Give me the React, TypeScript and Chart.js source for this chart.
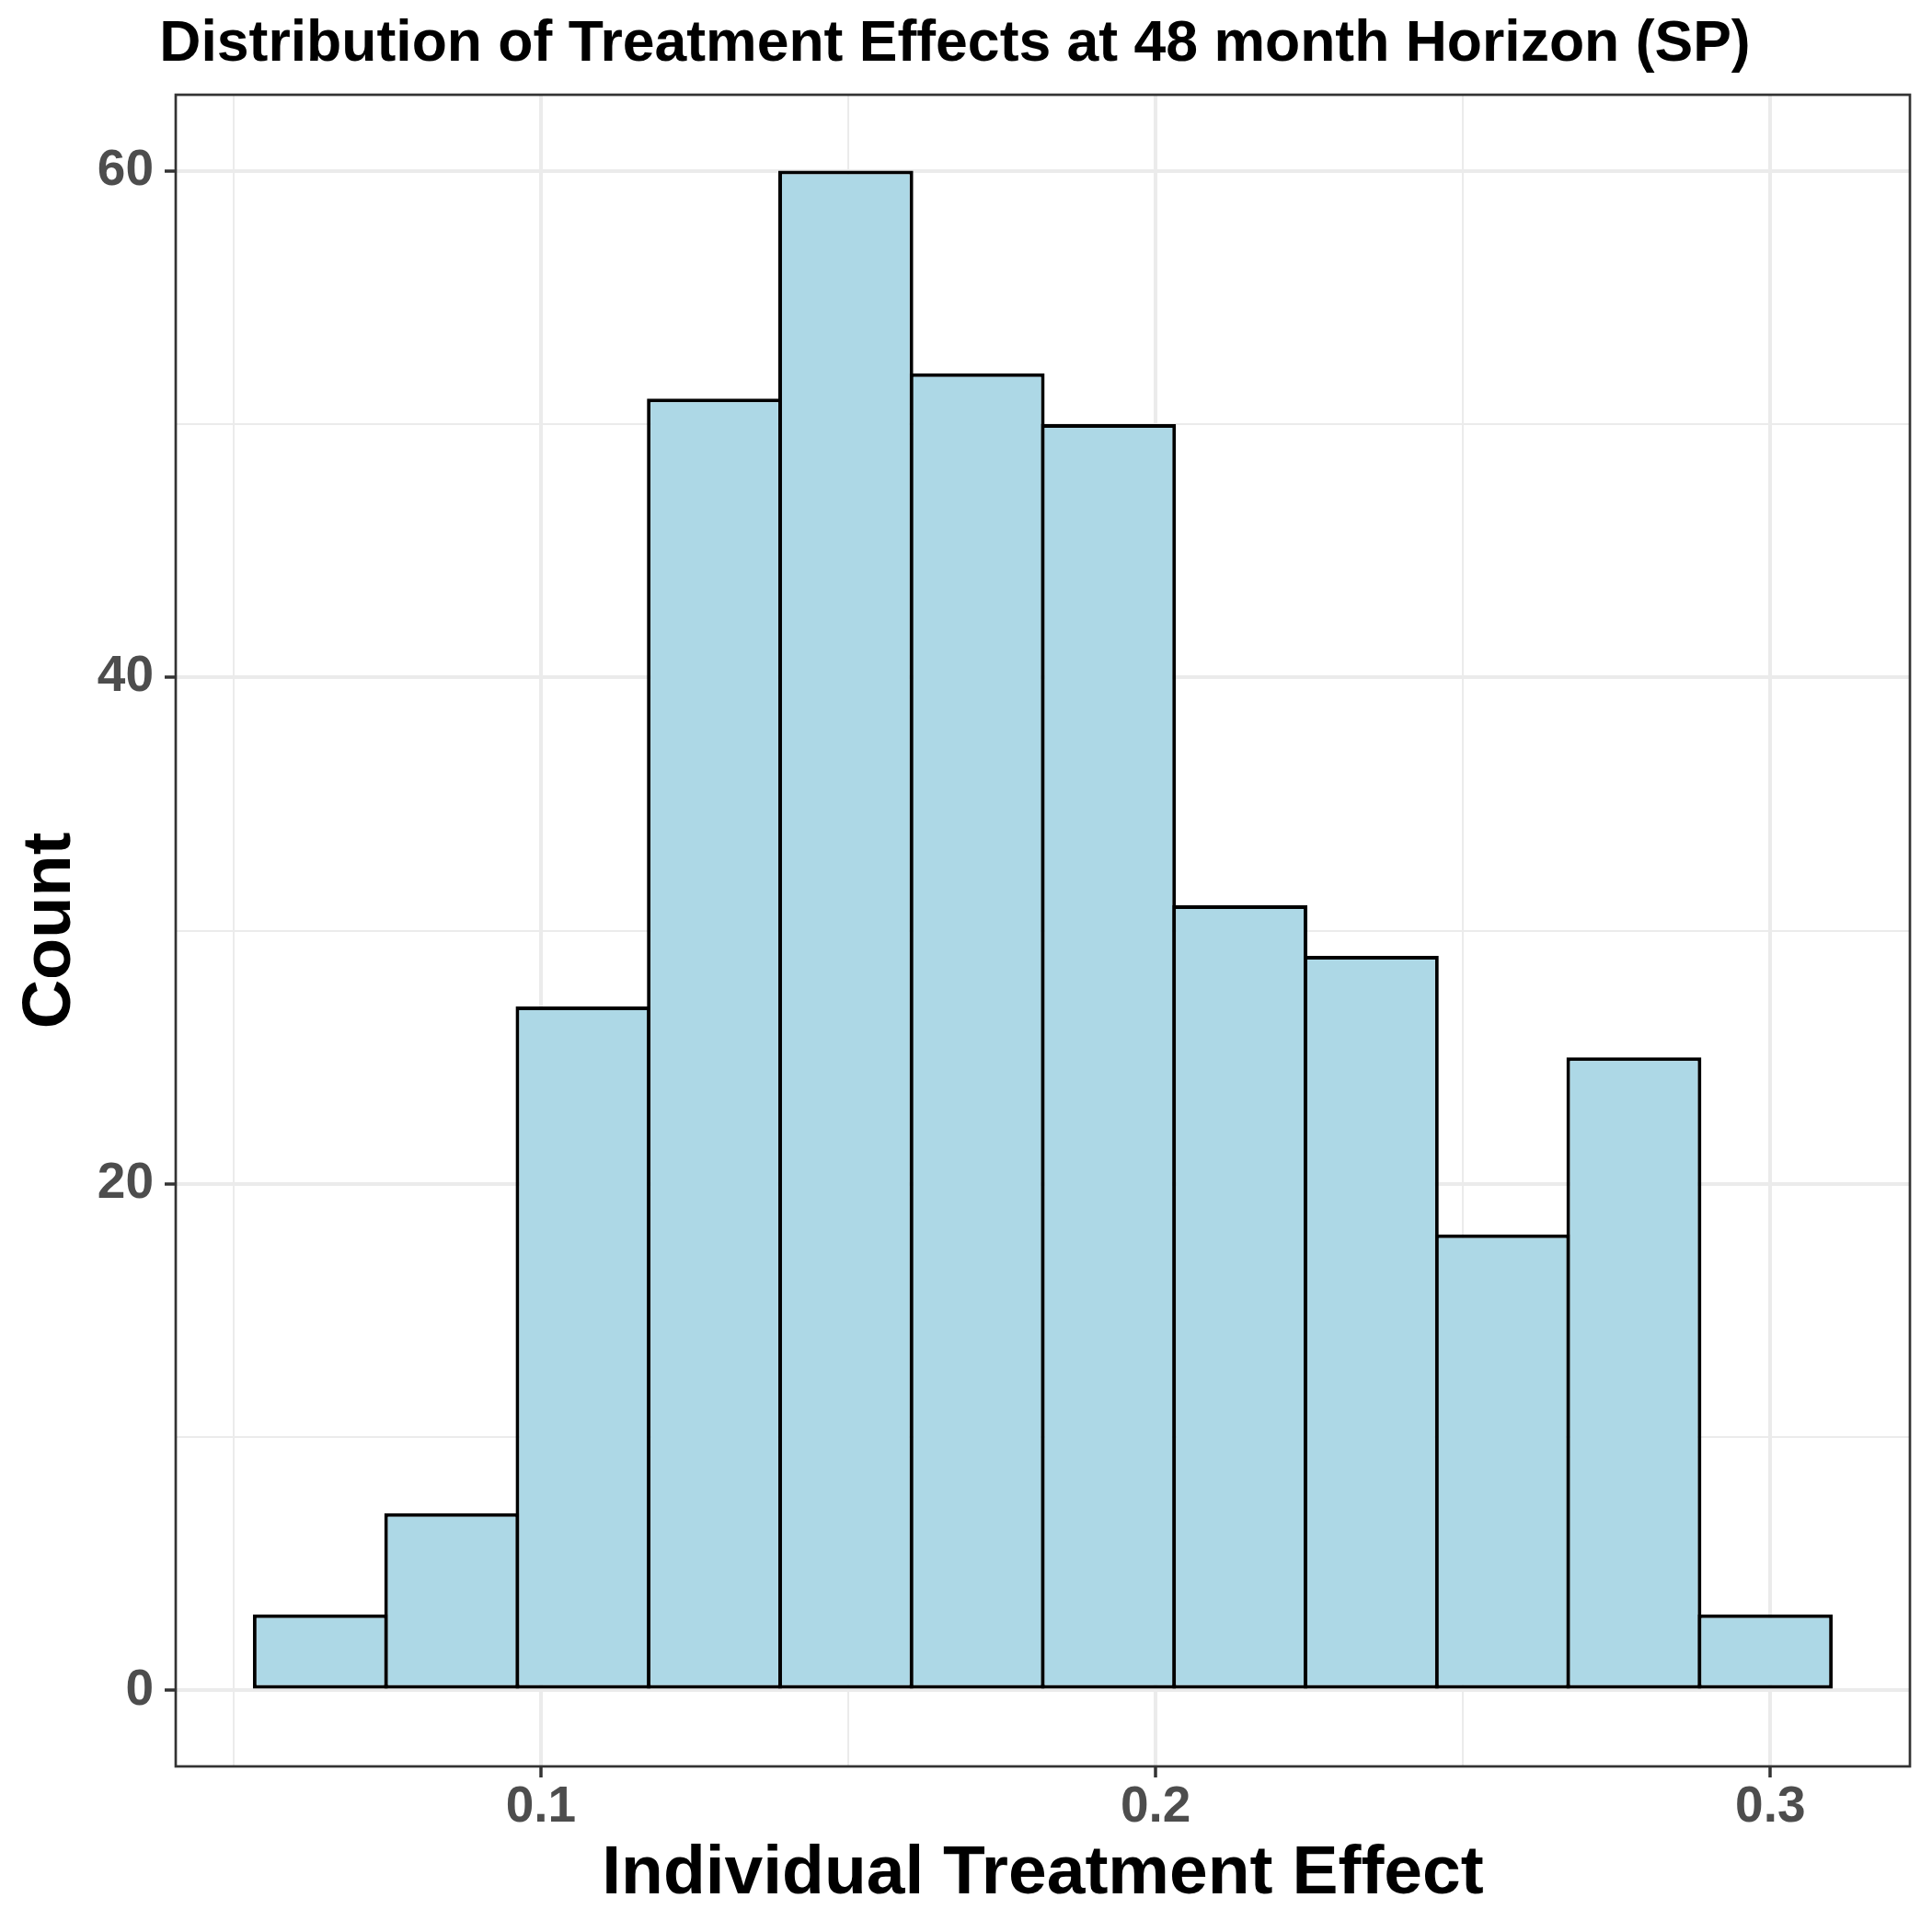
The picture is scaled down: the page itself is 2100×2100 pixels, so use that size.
import React, { useEffect, useRef } from 'react';
import { Chart, registerables } from 'chart.js';

Chart.register(...registerables);

// ---- Data ----
const binCenters = [0.06413, 0.0855, 0.10687, 0.12823, 0.1496, 0.17097, 0.19233, 0.2137, 0.23507, 0.25643, 0.2778, 0.29917];
const counts = [3, 7, 27, 51, 60, 52, 50, 31, 29, 18, 25, 3];

const xMajorTicks = [0.1, 0.2, 0.3];
const xMinorTicks = [0.05, 0.15, 0.25];
const yMajorTicks = [0, 20, 40, 60];
const yMinorTicks = [10, 30, 50];
const xRange = [0.0406, 0.3227];
const yRange = [-3, 63];

const titleText = 'Distribution of Treatment Effects at 48 month Horizon (SP)';
const xTitle = 'Individual Treatment Effect';
const yTitle = 'Count';

const FONT = "'Liberation Sans', Arial, Helvetica, sans-serif";

const near = (a: number, b: number) => Math.abs(a - b) < 1e-9;
const inList = (list: number[], v: number) => list.some((m) => near(m, v));

const panelBorder = {
  id: 'panelBorder',
  afterDatasetsDraw(chart: any) {
    const { ctx, chartArea: a } = chart;
    ctx.save();
    ctx.strokeStyle = '#333333';
    ctx.lineWidth = 2.7;
    ctx.strokeRect(a.left, a.top, a.right - a.left, a.bottom - a.top);
    ctx.restore();
  },
};

export default function App() {
  const canvasRef = useRef<HTMLCanvasElement | null>(null);

  useEffect(() => {
    document.body.style.margin = '0';
    const canvas = canvasRef.current;
    if (!canvas) return;

    const chart = new Chart(canvas, {
      type: 'bar',
      data: {
        datasets: [
          {
            data: binCenters.map((x, i) => ({ x, y: counts[i] })),
            backgroundColor: '#ADD8E6',
            borderColor: '#000000',
            borderWidth: 4,
            borderSkipped: false,
            barPercentage: 1.028,
            categoryPercentage: 1,
          } as any,
        ],
      },
      options: {
        responsive: false,
        animation: false,
        devicePixelRatio: 1,
        layout: { padding: { left: 0, right: 24, top: 0, bottom: 0 } },
        plugins: {
          legend: { display: false },
          tooltip: { enabled: false },
          title: {
            display: true,
            text: titleText,
            color: '#000000',
            align: 'center',
            font: { family: FONT, size: 62.5, weight: 'bold' },
            padding: { top: 11, bottom: 17 },
          },
        },
        scales: {
          x: {
            type: 'linear',
            min: xRange[0],
            max: xRange[1],
            offset: false,
            border: { display: false },
            grid: {
              offset: false,
              color: '#EBEBEB',
              lineWidth: (c: any) => (inList(xMajorTicks, c.tick?.value) ? 4 : 2),
              tickColor: (c: any) => (inList(xMajorTicks, c.tick?.value) ? '#333333' : 'rgba(0,0,0,0)'),
              tickWidth: 3.5,
              tickLength: 12,
              drawTicks: true,
            },
            ticks: {
              autoSkip: false,
              maxRotation: 0,
              minRotation: 0,
              padding: 0,
              color: '#4D4D4D',
              font: { family: FONT, size: 55, weight: 'bold' },
              callback: (v: any) => (inList(xMajorTicks, Number(v)) ? Number(v).toFixed(1) : ''),
            },
            title: {
              display: true,
              text: xTitle,
              color: '#000000',
              font: { family: FONT, size: 75, weight: 'bold' },
              padding: { top: 0, bottom: 17.5 },
            },
            afterBuildTicks: (s: any) => {
              s.ticks = [...xMajorTicks, ...xMinorTicks].sort((a, b) => a - b).map((value) => ({ value }));
            },
            afterFit: (s: any) => {
              s.height = 180;
            },
          } as any,
          y: {
            type: 'linear',
            min: yRange[0],
            max: yRange[1],
            border: { display: false },
            grid: {
              color: '#EBEBEB',
              lineWidth: (c: any) => (inList(yMajorTicks, c.tick?.value) ? 4 : 2),
              tickColor: (c: any) => (inList(yMajorTicks, c.tick?.value) ? '#333333' : 'rgba(0,0,0,0)'),
              tickWidth: 3.5,
              tickLength: 12,
              drawTicks: true,
            },
            ticks: {
              autoSkip: false,
              padding: 12,
              color: '#4D4D4D',
              font: { family: FONT, size: 55, weight: 'bold' },
              callback: (v: any) => (inList(yMajorTicks, Number(v)) ? String(v) : ''),
            },
            title: {
              display: true,
              text: yTitle,
              color: '#000000',
              font: { family: FONT, size: 74, weight: 'bold' },
              padding: { top: 11, bottom: 0 },
            },
            afterBuildTicks: (s: any) => {
              s.ticks = [...yMajorTicks, ...yMinorTicks].sort((a, b) => a - b).map((value) => ({ value }));
            },
            afterFit: (s: any) => {
              s.width = 191;
            },
          } as any,
        },
      },
      plugins: [panelBorder],
    });

    return () => chart.destroy();
  }, []);

  return (
    <div style={{ width: 2100, height: 2100, background: '#ffffff' }}>
      <canvas ref={canvasRef} width={2100} height={2100} style={{ display: 'block' }} />
    </div>
  );
}
